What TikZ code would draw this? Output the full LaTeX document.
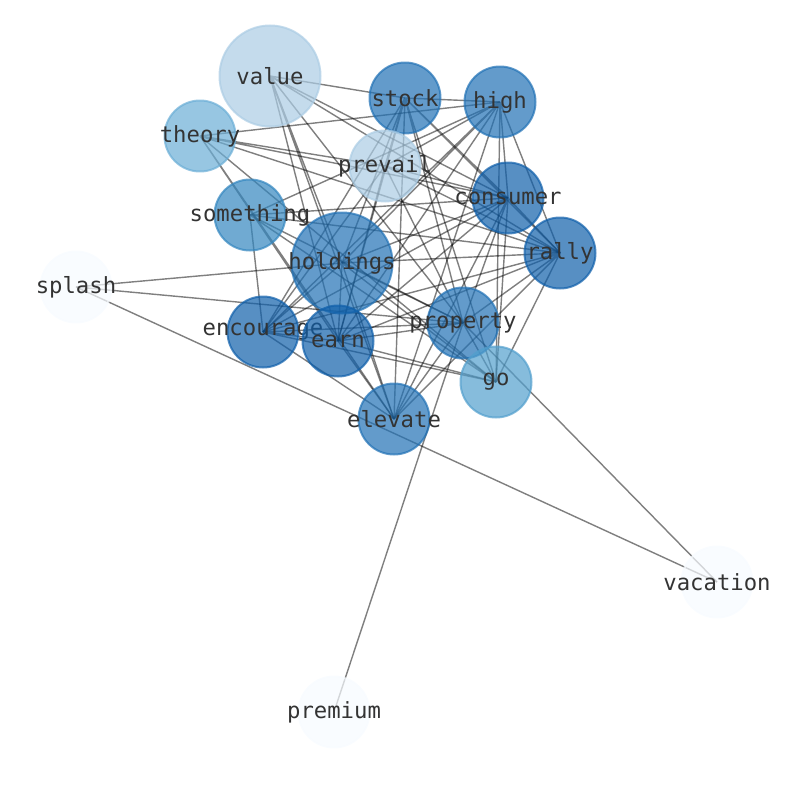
\documentclass[tikz,border=0pt]{standalone}
\usepackage{fontspec}
\newfontfamily\wordfont{DejaVu Sans Mono}
\usetikzlibrary{backgrounds}
\definecolor{tone0}{HTML}{F7FBFF}
\definecolor{tone1}{HTML}{ABCCE4}
\definecolor{tone2}{HTML}{6BAED6}
\definecolor{tone2b}{HTML}{529FCD}
\definecolor{tone3}{HTML}{3386BF}
\definecolor{tone4}{HTML}{2171B5}
\definecolor{tone5}{HTML}{0F5FAA}
\begin{document}
\begin{tikzpicture}[x=0.03cm, y=-0.03cm, thick]
        \tikzset{
            word/.style  = {circle, draw, line width=1.7pt, inner sep=0pt, minimum size=2.13cm,
                            fill opacity=0.7, draw opacity=0.7,
                            label={[wordtext]center:#1}},
            big/.style   = {word=#1, minimum size=3.03cm},
            wordtext/.style = {font=\wordfont\fontsize{19}{22}\selectfont, text=black!80, inner sep=0pt},
            link/.style  = {draw=black, line width=1.2pt, draw opacity=0.5}
        }
        \useasboundingbox (0,0) rectangle (794,790);

        \node[big=value,      fill=tone1, draw=tone1] (VALUE) at (270,76) {};
        \node[word=stock,     fill=tone4, draw=tone4] (STOCK) at (405,98) {};
        \node[word=high,      fill=tone4, draw=tone4] (HIGH) at (500,102) {};
        \node[word=theory,    fill=tone2, draw=tone2] (THEORY) at (200,136) {};
        \node[word=prevail,   fill=tone1, draw=tone1] (PREVAIL) at (385,166) {};
        \node[word=consumer,  fill=tone5, draw=tone5] (CONSUMER) at (508,198) {};
        \node[word=something, fill=tone3, draw=tone3] (SOMETHING) at (250,215) {};
        \node[word=rally,     fill=tone5, draw=tone5] (RALLY) at (560,253) {};
        \node[big=holdings,   fill=tone4, draw=tone4] (HOLDINGS) at (342,263) {};
        \node[word=splash,    fill=tone0, draw=tone0] (SPLASH) at (76,287) {};
        \node[word=encourage, fill=tone5, draw=tone5] (ENCOURAGE) at (263,332) {};
        \node[word=property,  fill=tone4, draw=tone4] (PROPERTY) at (463,323) {};
        \node[word=earn,      fill=tone5, draw=tone5] (EARN) at (338,341) {};
        \node[word=go,        fill=tone2b, draw=tone2b] (GO) at (496,382) {};
        \node[word=elevate,   fill=tone4, draw=tone4] (ELEVATE) at (394,419) {};
        \node[word=vacation,  fill=tone0, draw=tone0] (VACATION) at (717,582) {};
        \node[word=premium,   fill=tone0, draw=tone0] (PREMIUM) at (334,712) {};

        % co-occurrence links, kept under the words
        \begin{pgfonlayer}{background}
        \draw[link] (VALUE.center) -- (STOCK.center) (VALUE.center) -- (HOLDINGS.center)
            (VALUE.center) -- (ELEVATE.center) (VALUE.center) -- (EARN.center)
            (VALUE.center) -- (PROPERTY.center) (VALUE.center) -- (CONSUMER.center)
            (VALUE.center) -- (RALLY.center);
        \draw[link] (THEORY.center) -- (HIGH.center) (THEORY.center) -- (PREVAIL.center)
            (THEORY.center) -- (CONSUMER.center) (THEORY.center) -- (EARN.center)
            (THEORY.center) -- (ELEVATE.center) (THEORY.center) -- (RALLY.center)
            (THEORY.center) -- (GO.center);
        \draw[link] (STOCK.center) -- (HIGH.center) (STOCK.center) -- (HOLDINGS.center)
            (STOCK.center) -- (ENCOURAGE.center) (STOCK.center) -- (EARN.center)
            (STOCK.center) -- (ELEVATE.center) (STOCK.center) -- (PREVAIL.center)
            (STOCK.center) -- (CONSUMER.center) (STOCK.center) -- (RALLY.center)
            (STOCK.center) -- (GO.center) (STOCK.center) -- (PROPERTY.center);
        \draw[link] (HIGH.center) -- (SOMETHING.center) (HIGH.center) -- (PREVAIL.center)
            (HIGH.center) -- (HOLDINGS.center) (HIGH.center) -- (ENCOURAGE.center)
            (HIGH.center) -- (EARN.center) (HIGH.center) -- (CONSUMER.center)
            (HIGH.center) -- (RALLY.center) (HIGH.center) -- (GO.center)
            (HIGH.center) -- (ELEVATE.center);
        \draw[link] (PREVAIL.center) -- (ENCOURAGE.center) (PREVAIL.center) -- (EARN.center)
            (PREVAIL.center) -- (CONSUMER.center) (PREVAIL.center) -- (RALLY.center)
            (PREVAIL.center) -- (PROPERTY.center);
        \draw[link] (CONSUMER.center) -- (SOMETHING.center) (CONSUMER.center) -- (HOLDINGS.center)
            (CONSUMER.center) -- (ENCOURAGE.center) (CONSUMER.center) -- (EARN.center)
            (CONSUMER.center) -- (ELEVATE.center) (CONSUMER.center) -- (RALLY.center)
            (CONSUMER.center) -- (PROPERTY.center) (CONSUMER.center) -- (GO.center);
        \draw[link] (SOMETHING.center) -- (ENCOURAGE.center) (SOMETHING.center) -- (RALLY.center)
            (SOMETHING.center) -- (GO.center) (SOMETHING.center) -- (PROPERTY.center);
        \draw[link] (RALLY.center) -- (HOLDINGS.center) (RALLY.center) -- (ENCOURAGE.center)
            (RALLY.center) -- (EARN.center) (RALLY.center) -- (ELEVATE.center)
            (RALLY.center) -- (PROPERTY.center) (RALLY.center) -- (GO.center);
        \draw[link] (HOLDINGS.center) -- (ENCOURAGE.center) (HOLDINGS.center) -- (EARN.center)
            (HOLDINGS.center) -- (PROPERTY.center) (HOLDINGS.center) -- (GO.center)
            (HOLDINGS.center) -- (ELEVATE.center) (HOLDINGS.center) -- (SPLASH.center);
        \draw[link] (ENCOURAGE.center) -- (EARN.center) (ENCOURAGE.center) -- (PROPERTY.center)
            (ENCOURAGE.center) -- (GO.center) (ENCOURAGE.center) -- (ELEVATE.center);
        \draw[link] (EARN.center) -- (PROPERTY.center) (EARN.center) -- (GO.center)
            (EARN.center) -- (ELEVATE.center);
        \draw[link] (PROPERTY.center) -- (GO.center) (PROPERTY.center) -- (ELEVATE.center)
            (PROPERTY.center) -- (PREMIUM.center) (PROPERTY.center) -- (VACATION.center);
        \draw[link] (SPLASH.center) -- (PROPERTY.center) (SPLASH.center) -- (VACATION.center);
        \end{pgfonlayer}
    \end{tikzpicture}
\end{document}
